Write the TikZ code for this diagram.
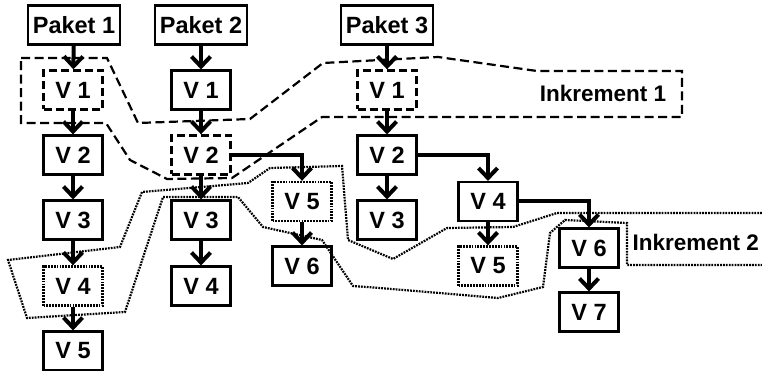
\documentclass[tikz,border=0pt]{standalone}
\usepackage{fontspec}
\setmainfont{Liberation Sans}
\usetikzlibrary{arrows.meta}

\begin{document}
\begin{tikzpicture}[x=1pt, y=-1pt,
    box/.style={draw, line width=2.1pt, minimum width=59pt, minimum height=39pt, inner sep=0pt, font=\fontsize{23.5}{28}\selectfont\bfseries},
    dashbox/.style={box, line width=2.4pt, dash pattern=on 8pt off 4pt},
    dotbox/.style={box, line width=2.4pt, dash pattern=on 1.8pt off 1.1pt},
    conn/.style={line width=4pt, -{Straight Barb[length=10pt, width=19pt]}},
    incr/.style={line width=2.2pt},
    lbl/.style={font=\fontsize{22.5}{27}\selectfont\bfseries, inner sep=0pt}]
    \useasboundingbox (0,0) rectangle (762,371);

    % Pakete
    \foreach \i/\x in {1/74, 2/201, 3/387} {
        \node[box, minimum width=92pt] (p\i) at (\x, 25) {Paket \i};
    }

    % Paket 1
    \foreach \n/\y/\s in {1/90/dashbox, 2/155/box, 3/220/box, 4/286/dotbox, 5/351/box} {
        \node[\s] (a\n) at (73, \y) {V \n};
    }
    % Paket 2
    \foreach \n/\y/\s in {1/90/box, 2/155/dashbox, 3/220/box, 4/286/box} {
        \node[\s] (b\n) at (201, \y) {V \n};
    }
    \node[dotbox] (b5) at (302, 201.5) {V 5};
    \node[box] (b6) at (302, 266) {V 6};
    % Paket 3
    \foreach \n/\y/\s in {1/90/dashbox, 2/155/box, 3/220/box} {
        \node[\s] (c\n) at (387, \y) {V \n};
    }
    \node[box] (c4) at (488, 201.5) {V 4};
    \node[dotbox] (c5) at (488, 266) {V 5};
    \node[box] (c6) at (589, 248) {V 6};
    \node[box] (c7) at (589, 312) {V 7};

    % Verbindungen
    \draw[conn] (p1) -- (a1);
    \foreach \i/\j in {1/2, 2/3, 3/4, 4/5} {
        \draw[conn] (a\i) -- (a\j);
    }
    \draw[conn] (p2) -- (b1);
    \foreach \i/\j in {1/2, 2/3, 3/4, 5/6} {
        \draw[conn] (b\i) -- (b\j);
    }
    \draw[conn] (b2.east) -| (b5.north);
    \draw[conn] (p3) -- (c1);
    \foreach \i/\j in {1/2, 2/3, 4/5, 6/7} {
        \draw[conn] (c\i) -- (c\j);
    }
    \draw[conn] (c2.east) -| (c4.north);
    \draw[conn] (c4.east) -| (c6.north);

    % Inkrement 1
    \draw[incr, dash pattern=on 9pt off 4.5pt] (21,58) -- (107,58) -- (138,123) -- (250,119) -- (323,63) -- (438,57)
        -- (537,71) -- (682,71) -- (682,117) -- (322,117) -- (232,178) -- (167,179) -- (130,160) -- (106,123)
        -- (21,123) -- cycle;
    \node[lbl] (inc1) at (603, 93) {Inkrement 1};

    % Inkrement 2
    \draw[incr, dash pattern=on 1.8pt off 1.1pt] (762,213) -- (557,213) -- (513,227) -- (447,228) -- (393,259)
        -- (348,240) -- (342,166) -- (270,168) -- (248,183) -- (142,192) -- (120,247) -- (8,260) -- (27,318)
        -- (125,312) -- (163,197) -- (238,197) -- (263,227) -- (322,240) -- (353,286) -- (380,288) -- (498,298)
        -- (543,287) -- (550,233) -- (565,220) -- (627,223) -- (627,265) -- (762,265);
    \node[lbl, anchor=east] (inc2) at (759, 242) {Inkrement 2};
\end{tikzpicture}
\end{document}
